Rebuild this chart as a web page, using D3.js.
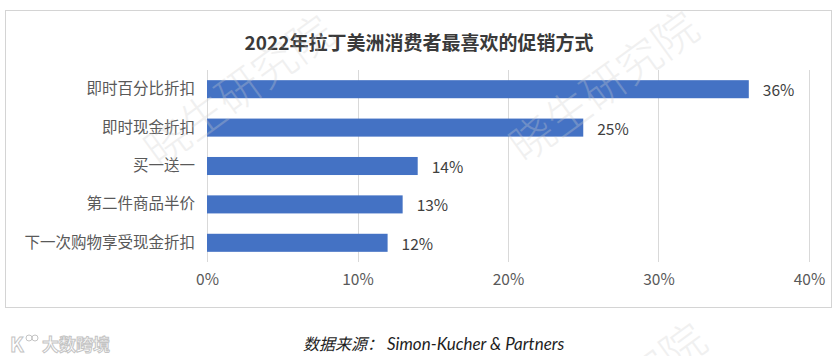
<!DOCTYPE html>
<html>
<head>
<meta charset="utf-8">
<script src="https://cdn.jsdelivr.net/npm/d3@7"></script>
<style>
  html, body { margin: 0; padding: 0; background: #fff; }
  svg { display: block; }
  text { font-family: "Noto Sans CJK SC", "Noto Sans", sans-serif; }
</style>
</head>
<body>
<svg id="chart" width="840" height="356"></svg>
<script>
const title = "2022年拉丁美洲消费者最喜欢的促销方式";
const categories = ["即时百分比折扣", "即时现金折扣", "买一送一", "第二件商品半价", "下一次购物享受现金折扣"];
const values = [0.36, 0.25, 0.14, 0.13, 0.12];
const tickValues = [0, 0.1, 0.2, 0.3, 0.4];
const sourceLabel = "数据来源：";
const sourceText = "Simon-Kucher & Partners";
const watermark = "晓生研究院";
const logoText = "大数跨境";

const svg = d3.select("#chart");

// outer box
svg.append("rect")
  .attr("x", 5.5).attr("y", 10.5)
  .attr("width", 826).attr("height", 297)
  .attr("fill", "none")
  .attr("stroke", "#d4d4d4")
  .attr("stroke-width", 1);

// title
svg.append("text")
  .attr("x", 419).attr("y", 41)
  .attr("text-anchor", "middle")
  .attr("dominant-baseline", "central")
  .attr("font-size", 19)
  .attr("font-weight", "bold")
  .attr("fill", "#3a3a3a")
  .text(title);

const x = d3.scaleLinear().domain([0, 0.4]).range([207, 809]);
const y = d3.scaleBand().domain(categories).range([70, 262])
  .paddingInner(0.53).paddingOuter(0.265);

// gridlines
svg.append("g").selectAll("line").data(tickValues).join("line")
  .attr("x1", d => Math.round(x(d)) + 0.5)
  .attr("x2", d => Math.round(x(d)) + 0.5)
  .attr("y1", 70).attr("y2", 262)
  .attr("stroke", "#d9d9d9").attr("stroke-width", 1);

// bars
svg.append("g").selectAll("rect").data(values).join("rect")
  .attr("x", x(0))
  .attr("y", (d, i) => y(categories[i]))
  .attr("width", d => x(d) - x(0))
  .attr("height", y.bandwidth())
  .attr("fill", "#4472C4");

// value labels
svg.append("g").selectAll("text").data(values).join("text")
  .attr("x", d => x(d) + 14)
  .attr("y", (d, i) => y(categories[i]) + y.bandwidth() / 2)
  .attr("dominant-baseline", "central")
  .attr("font-size", 15.5)
  .attr("fill", "#404040")
  .text(d => d3.format(".0%")(d));

// category axis
const yAxis = d3.axisLeft(y).tickSize(0).tickPadding(12);
const gy = svg.append("g").attr("transform", `translate(${x(0)},0)`).call(yAxis);
gy.select(".domain").remove();
gy.selectAll("text")
  .attr("font-size", 15.5)
  .attr("fill", "#595959")
  .attr("font-family", "Noto Sans CJK SC");

// x axis
const xAxis = d3.axisBottom(x).tickValues(tickValues).tickFormat(d3.format(".0%")).tickSize(0).tickPadding(0);
const gx = svg.append("g").attr("transform", `translate(0,274)`).call(xAxis);
gx.select(".domain").remove();
gx.selectAll("text")
  .attr("font-size", 15.5)
  .attr("fill", "#595959")
  .attr("font-family", "Noto Sans CJK SC");

// source
const src = svg.append("text")
  .attr("x", 303).attr("y", 343)
  .attr("dominant-baseline", "central")
  .attr("font-style", "italic")
  .attr("fill", "#1e1e1e");
src.append("tspan").attr("font-size", 16).text(sourceLabel);
src.append("tspan").attr("font-size", 17).attr("dx", 4)
  .attr("font-family", "Lato, 'Open Sans', sans-serif").text(sourceText);

// logo
const logo = svg.append("g").attr("transform", "translate(10,343)");
logo.append("text")
  .attr("x", 0).attr("y", 0)
  .attr("dominant-baseline", "central")
  .attr("font-size", 20)
  .attr("font-weight", "bold")
  .attr("fill", "#fff")
  .attr("stroke", "#c4c4c4")
  .attr("stroke-width", 1)
  .attr("font-family", "Lato, sans-serif")
  .text("K");
logo.append("circle").attr("cx", 19).attr("cy", -5).attr("r", 3)
  .attr("fill", "none").attr("stroke", "#c4c4c4");
logo.append("circle").attr("cx", 25).attr("cy", -5).attr("r", 3)
  .attr("fill", "none").attr("stroke", "#c4c4c4");
logo.append("text")
  .attr("x", 32).attr("y", 0)
  .attr("dominant-baseline", "central")
  .attr("font-size", 17)
  .attr("font-weight", "bold")
  .attr("fill", "#fff")
  .attr("stroke", "#c4c4c4")
  .attr("stroke-width", 1)
  .text(logoText);

// watermarks (faint overlay)
const wm = [[237, 88], [602, 84], [610, 396]];
wm.forEach(([cx, cy]) => {
  svg.append("text")
    .attr("transform", `translate(${cx},${cy}) rotate(-36)`)
    .attr("text-anchor", "middle")
    .attr("dominant-baseline", "central")
    .attr("font-size", 44)
    .attr("font-weight", 300)
    .attr("fill", "#cfcfcf")
    .attr("opacity", 0.3)
    .text(watermark);
});
</script>
</body>
</html>
